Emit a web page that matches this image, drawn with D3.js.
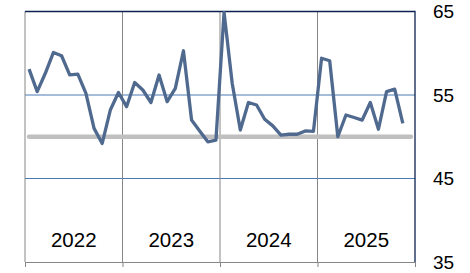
<!DOCTYPE html>
<html>
<head>
<meta charset="utf-8">
<script src="https://cdn.jsdelivr.net/npm/d3@7"></script>
<style>
  body { margin: 0; background: #fff; }
  svg { display: block; font-family: "Liberation Sans", Arial, sans-serif; }
</style>
</head>
<body>
<div id="chart"></div>
<script>
// monthly index values, Jan 2022 .. Nov 2025
var values = [58.1, 55.4, 57.6, 60.1, 59.7, 57.4, 57.5, 55.2, 51.0, 49.2, 53.2, 55.3,
              53.6, 56.5, 55.6, 54.1, 57.4, 54.2, 55.8, 60.3, 52.0, 50.7, 49.4, 49.6,
              64.9, 56.4, 50.8, 54.1, 53.8, 52.1, 51.3, 50.2, 50.3, 50.3, 50.7, 50.65,
              59.4, 59.1, 50.0, 52.6, 52.3, 52.0, 54.1, 50.9, 55.4, 55.7, 51.6];
// years on the x axis
var years = ["2022", "2023", "2024", "2025"];
// right axis tick labels
var yTicks = [35, 45, 55, 65];
// reference level drawn as the thick grey line
var refLevel = 50;
var monthsShown = 48;

var width = 470, height = 273;
var margin = {top: 11.5, right: 55, bottom: 11, left: 25};

var svg = d3.select("#chart").append("svg")
    .attr("width", width)
    .attr("height", height);

//month index -> pixels
var x = d3.scaleLinear()
    .domain([0, monthsShown])
    .range([margin.left, width - margin.right]);

var y = d3.scaleLinear()
    .domain([35, 65])
    .range([height - margin.bottom, margin.top]);

var yearBand = d3.scaleBand()
    .domain(years)
    .range([margin.left, width - margin.right]);

var yTop = y(65), yBottom = y(35), xLeft = x(0), xRight = x(monthsShown);

//horizontal blue gridlines
svg.selectAll(".hgrid")
    .data([45, 55])
    .enter().append("line")
    .attr("x1", xLeft).attr("x2", xRight)
    .attr("y1", function(d) { return y(d); })
    .attr("y2", function(d) { return y(d); })
    .attr("stroke", "#4a7ab5")
    .attr("stroke-width", 1);

//vertical grey gridlines at the year boundaries (plus left edge)
svg.selectAll(".vgrid")
    .data([0, 12, 24, 36])
    .enter().append("line")
    .attr("x1", function(d) { return x(d); })
    .attr("x2", function(d) { return x(d); })
    .attr("y1", yTop).attr("y2", yBottom)
    .attr("stroke", "#868686")
    .attr("stroke-width", 1);

//bottom axis: only tick marks
var xAxis = d3.axisBottom(x)
    .tickValues([0, 12, 24, 36, 48])
    .tickSize(5)
    .tickFormat("");
var gx = svg.append("g")
    .attr("transform", "translate(0," + yBottom + ")")
    .call(xAxis);
gx.select(".domain").attr("stroke", "#868686");
gx.selectAll(".tick line").attr("stroke", "#868686");

//top and right border
svg.append("path")
    .attr("d", "M" + xLeft + "," + yTop + "H" + xRight + "V" + yBottom)
    .attr("fill", "none")
    .attr("stroke", "#0d2252")
    .attr("stroke-width", 1.3);

//thick grey reference line
svg.append("line")
    .attr("x1", x(0.5)).attr("x2", x(monthsShown - 0.5))
    .attr("y1", y(refLevel)).attr("y2", y(refLevel))
    .attr("stroke", "#c0c0c0")
    .attr("stroke-width", 4.5)
    .attr("stroke-linecap", "round");

//series line
var line = d3.line()
    .x(function(d, i) { return x(i + 0.5); })
    .y(function(d) { return y(d); });

svg.append("path")
    .datum(values)
    .attr("d", line)
    .attr("fill", "none")
    .attr("stroke", "#506a8f")
    .attr("stroke-width", 3.3)
    .attr("stroke-linejoin", "round");

//right axis labels
var yAxis = d3.axisRight(y)
    .tickValues(yTicks)
    .tickSize(0)
    .tickPadding(18);
var gy = svg.append("g")
    .attr("transform", "translate(" + xRight + ",0)")
    .call(yAxis);
gy.select(".domain").remove();
gy.selectAll("text")
    .attr("font-size", "19px")
    .attr("font-family", "Liberation Sans, Arial, sans-serif")
    .attr("fill", "#000");

//year labels inside the plot
svg.selectAll(".year")
    .data(years)
    .enter().append("text")
    .attr("x", function(d) { return yearBand(d) + yearBand.bandwidth() / 2; })
    .attr("y", 246.5)
    .attr("text-anchor", "middle")
    .attr("font-size", "20.5px")
    .attr("fill", "#000")
    .text(function(d) { return d; });
</script>
</body>
</html>
